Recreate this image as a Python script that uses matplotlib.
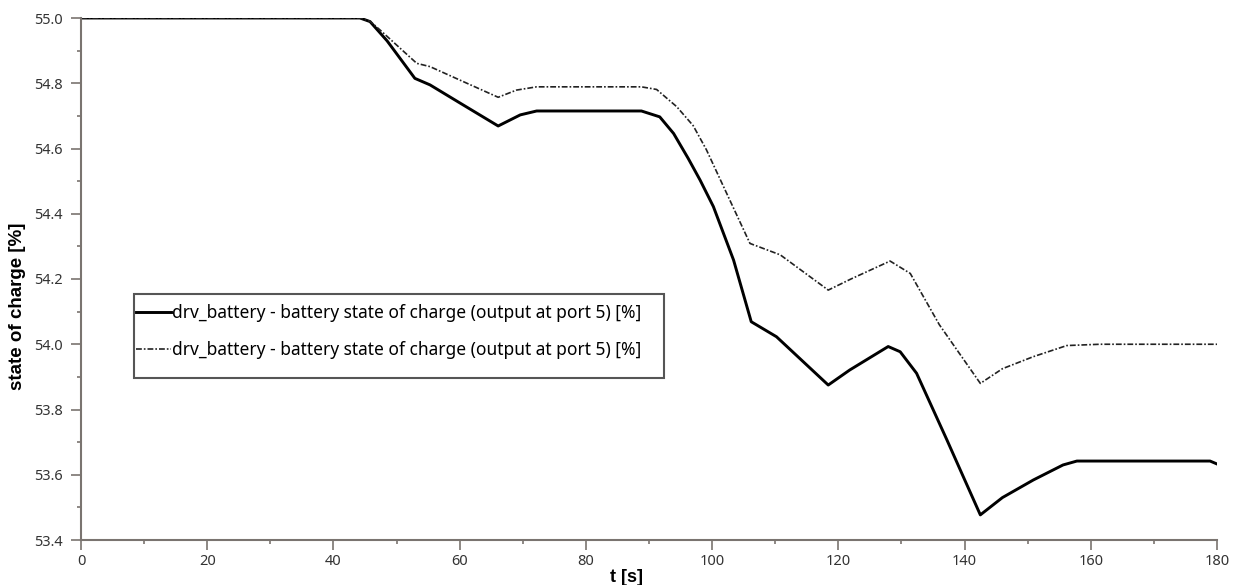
import matplotlib
matplotlib.use("Agg")
import matplotlib.pyplot as plt
from matplotlib.patches import Rectangle
from matplotlib.ticker import MultipleLocator

# --- data ---
t_solid = [0, 44.2, 45.8, 48.5, 52.9, 55.3, 60.0, 66.1, 69.6, 72.2, 88.8, 91.7, 93.9,
           96.2, 98.1, 100.2, 103.4, 106.2, 110.2, 118.4, 121.8, 127.9, 129.8, 132.4,
           137.2, 139.8, 142.5, 146.0, 150.9, 155.6, 157.8, 178.9, 180.0]
soc_solid = [55.0, 55.0, 54.989, 54.93, 54.815, 54.795, 54.74, 54.669, 54.703, 54.715,
             54.715, 54.697, 54.646, 54.57, 54.503, 54.422, 54.258, 54.069, 54.023,
             53.875, 53.921, 53.993, 53.977, 53.911, 53.707, 53.594, 53.477, 53.53,
             53.584, 53.630, 53.642, 53.642, 53.633]

t_dash = [0, 44.2, 45.8, 47.4, 53.2, 55.3, 60.0, 66.1, 69.0, 72.2, 88.8, 91.2, 94.4,
          97.0, 99.1, 102.8, 106.0, 110.8, 118.4, 122.0, 128.2, 131.4, 136.0, 142.5,
          146.0, 150.9, 156.2, 161.5, 180.0]
soc_dash = [55.0, 55.0, 54.99, 54.963, 54.861, 54.851, 54.81, 54.757, 54.779, 54.789,
            54.789, 54.781, 54.728, 54.67, 54.596, 54.442, 54.309, 54.274, 54.166,
            54.2, 54.255, 54.217, 54.06, 53.880, 53.925, 53.962, 53.996, 54.0, 54.0]

legend_label = "drv_battery - battery state of charge (output at port 5) [%]"
x_ticks = list(range(0, 181, 20))
y_ticks = [53.4, 53.6, 53.8, 54.0, 54.2, 54.4, 54.6, 54.8, 55.0]

W, H = 1237, 585
fig = plt.figure(figsize=(W / 100, H / 100), dpi=100)
ax = fig.add_axes([81 / W, 1 - 540 / H, (1217 - 81) / W, (540 - 18) / H])

ax.plot(t_solid, soc_solid, color="black", lw=2.1, label=legend_label,
        solid_joinstyle="round")
ax.plot(t_dash, soc_dash, color="#222222", lw=1.2, dashes=(3.5, 1.2, 1.0, 1.2),
        label=legend_label)

ax.set_xlim(0, 180)
ax.set_ylim(53.4, 55.0)
ax.set_xticks(x_ticks)
ax.set_yticks(y_ticks)
ax.xaxis.set_minor_locator(MultipleLocator(10))
ax.yaxis.set_minor_locator(MultipleLocator(0.1))
ax.set_xticklabels([str(v) for v in x_ticks])
ax.set_yticklabels([f"{v:.1f}" for v in y_ticks])

for s in ["top", "right"]:
    ax.spines[s].set_visible(False)
for s in ["left", "bottom"]:
    ax.spines[s].set_color("#7a7470")
    ax.spines[s].set_linewidth(1.5)

ax.tick_params(axis="both", which="major", length=7, width=1.2, color="#7a7470",
               labelcolor="#333333", labelsize=10.5)
ax.tick_params(axis="both", which="minor", length=3, width=1.2, color="#7a7470")
ax.tick_params(axis="x", pad=3)
ax.tick_params(axis="y", pad=6)
for lab in ax.get_xticklabels() + ax.get_yticklabels():
    lab.set_fontfamily("Noto Sans")

fig.text(18 / W, 1 - 306 / H, "state of charge [%]", rotation=90, ha="center",
         va="center", fontsize=13.5, fontweight="bold", family="Liberation Sans")
fig.text(627 / W, 1 - 577 / H, "t [s]", ha="center", va="center", fontsize=13,
         fontweight="bold", family="Liberation Sans")

# legend frame (drawn separately so padding can be asymmetric, as in the original)
frame = Rectangle((134 / W, 1 - 378 / H), 530 / W, 84 / H,
                  transform=fig.transFigure, facecolor="white",
                  edgecolor="#555555", linewidth=1.5, zorder=4, clip_on=False)
ax.add_patch(frame)
leg = ax.legend(loc="upper left", bbox_to_anchor=(136 / W, 1 - 304 / H),
                bbox_transform=fig.transFigure, borderaxespad=0, frameon=False,
                prop={"family": "Noto Sans", "size": 12.5},
                handlelength=2.0, handletextpad=0.1, borderpad=0.0,
                labelspacing=1.1)
leg.set_zorder(6)

fig.savefig("out.png", dpi=100)
